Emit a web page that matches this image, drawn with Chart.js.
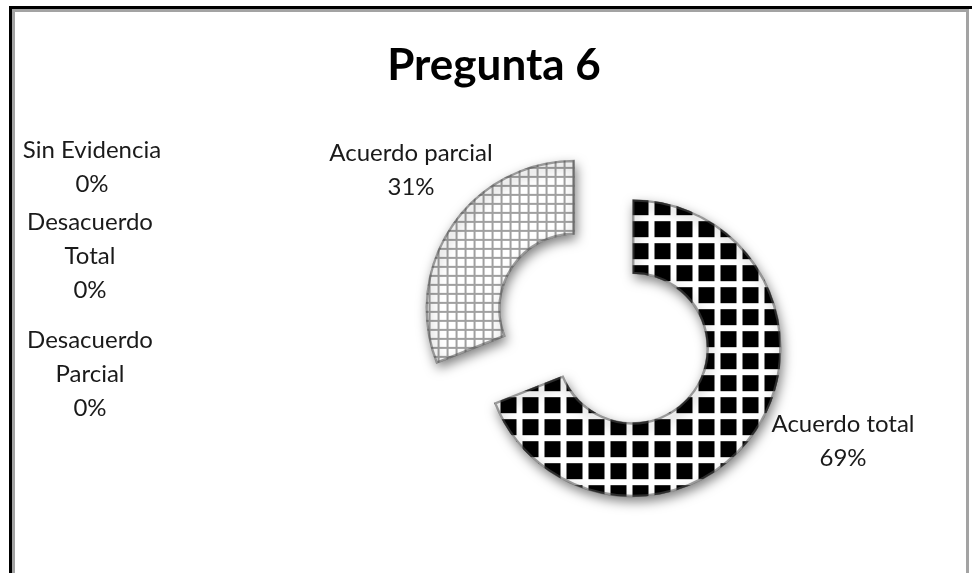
<!DOCTYPE html>
<html>
<head>
<meta charset="utf-8">
<title>Pregunta 6</title>
<script src="https://cdn.jsdelivr.net/npm/chart.js@4.4.0/dist/chart.umd.min.js"></script>
<style>
  html, body { margin: 0; padding: 0; background: #fff; }
  #wrap { position: relative; width: 972px; height: 573px; overflow: hidden; }
  .frame-outer { position: absolute; left: 9px; top: 6px; width: 980px; height: 600px;
                 border-top: 3px solid #000; border-left: 3px solid #000; }
  .frame-inner { position: absolute; left: 12px; top: 9px; width: 951px; height: 600px;
                 border: 3px solid #a3a3a3; border-bottom: none; }
  canvas { position: absolute; left: 0; top: 0; }
</style>
</head>
<body>
<div id="wrap">
  <div class="frame-outer"></div>
  <div class="frame-inner"></div>
  <canvas id="chart" width="972" height="573"></canvas>
</div>
<script>
const chartTitle = 'Pregunta 6';
const categories = ['Acuerdo total', 'Desacuerdo Parcial', 'Desacuerdo Total', 'Sin Evidencia', 'Acuerdo parcial'];
const percentages = [69, 0, 0, 0, 31];

// where each data label sits, relative to the ring centre: [dx, dy, wrap words]
const labelSpots = [
  [239.5, 112.5, false],
  [-513.5, 45.5, true],
  [-513.5, -72.5, true],
  [-511.5, -162, false],
  [-192.5, -158.5, false]
];

const explode = 35;
const canvas = document.getElementById('chart');
const ctx = canvas.getContext('2d');

function gridPattern(size, line, bg, fg) {
  const c = document.createElement('canvas');
  c.width = size;
  c.height = size;
  const g = c.getContext('2d');
  g.fillStyle = bg;
  g.fillRect(0, 0, size, size);
  g.fillStyle = fg;
  g.fillRect(size - line, 0, line, size);
  g.fillRect(0, size - line, size, line);
  return ctx.createPattern(c, 'repeat');
}

const bigGrid = gridPattern(22, 6, '#000', '#fff');
const smallGrid = gridPattern(9, 2, '#fff', '#a0a0a0');

// pull every slice out along its bisector, with a soft drop shadow
const explodePlugin = {
  id: 'explode',
  beforeDatasetDraw(chart, args) {
    const c = chart.ctx;
    args.meta.data.forEach(arc => {
      if (arc.endAngle - arc.startAngle <= 0) return;
      const mid = (arc.startAngle + arc.endAngle) / 2;
      c.save();
      c.translate(Math.cos(mid) * explode, Math.sin(mid) * explode);
      c.shadowColor = 'rgba(0,0,0,0.5)';
      c.shadowBlur = 12;
      c.shadowOffsetX = 2;
      c.shadowOffsetY = 5;
      const fill = arc.options.backgroundColor;
      if (fill instanceof CanvasPattern) {
        fill.setTransform(new DOMMatrix().translate(arc.x, arc.y - arc.outerRadius));
      }
      arc.draw(c);
      c.restore();
    });
    return false;
  }
};

const labelPlugin = {
  id: 'labels',
  afterDraw(chart) {
    const c = chart.ctx;
    const first = chart.getDatasetMeta(0).data[0];
    const cx = first.x, cy = first.y;
    const total = percentages.reduce((a, b) => a + b, 0);
    c.save();
    c.fillStyle = '#000';
    c.textAlign = 'center';
    c.textBaseline = 'alphabetic';
    c.font = 'bold 44px Lato';
    c.fillText(chartTitle, 494, 80);

    c.fillStyle = '#1a1a1a';
    c.font = '24px Lato';
    categories.forEach((name, i) => {
      const [dx, dy, wrap] = labelSpots[i];
      const lines = wrap ? name.split(' ') : [name];
      lines.push(Math.round(percentages[i] / total * 100) + '%');
      lines.forEach((line, k) => {
        const y = cy + dy + (k - (lines.length - 1) / 2) * 34 + 8;
        c.fillText(line, cx + dx, y);
      });
    });
    c.restore();
  }
};

new Chart(ctx, {
  type: 'doughnut',
  data: {
    labels: categories,
    datasets: [{
      data: percentages,
      backgroundColor: [bigGrid, '#fff', '#fff', '#fff', smallGrid],
      borderColor: 'rgba(80,80,80,0.55)',
      borderWidth: 2,
      borderAlign: 'inner'
    }]
  },
  options: {
    responsive: false,
    animation: false,
    events: [],
    radius: 149,
    cutout: '49.7%',
    layout: { padding: { left: 235, top: 84 } },
    plugins: {
      legend: { display: false },
      tooltip: { enabled: false },
      title: { display: false }
    }
  },
  plugins: [explodePlugin, labelPlugin]
});
</script>
</body>
</html>
